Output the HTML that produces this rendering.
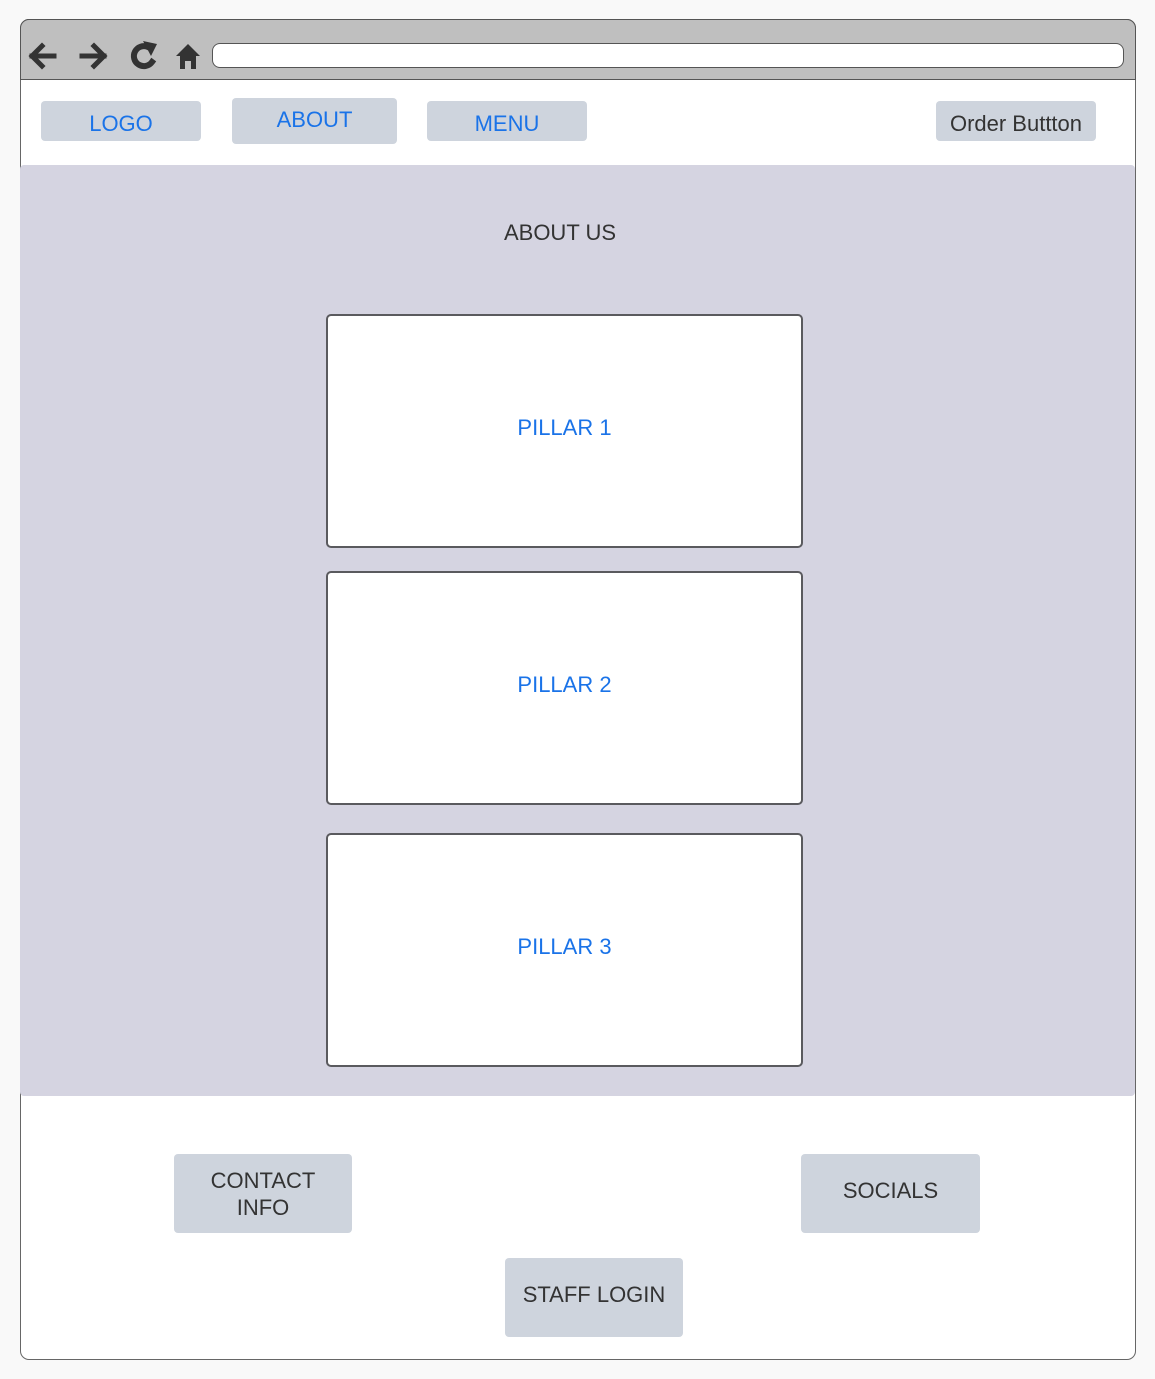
<!DOCTYPE html>
<html><head><style>
body{margin:0;width:1155px;height:1379px;background:#f9f9f9;position:relative;font-family:"Liberation Sans",sans-serif;overflow:hidden}
.a{position:absolute;box-sizing:border-box}
.btn{background:#ced4dd;border-radius:4px;display:flex;align-items:center;justify-content:center;text-align:center;font-size:22px;color:#333}
.blue{color:#1a73e8}
.nav{padding-top:5px}
.pil{background:#fff;border:2.5px solid #5a5a5e;border-radius:5px;display:flex;align-items:center;justify-content:center;color:#1a73e8;font-size:22px;padding-bottom:6px}
</style></head><body>
<div class="a" style="left:20px;top:19px;width:1116px;height:1341px;background:#fff;border:1.5px solid #666;border-radius:9px"></div>
<div class="a" style="left:20px;top:19px;width:1116px;height:61px;background:#bfbfbf;border:1.5px solid #555;border-radius:9px 9px 0 0"></div>
<div class="a" style="left:212px;top:43px;width:912px;height:25px;background:#fff;border:1.5px solid #555;border-radius:8px"></div>
<svg class="a" style="left:26px;top:38px" width="180" height="36" viewBox="0 0 180 36">
<g stroke="#333" stroke-width="5" fill="none" stroke-linecap="square">
<path d="M6 18H28M16 8L6 18L16 28"/>
<path d="M56 18H78M68 8L78 18L68 28"/>
<path d="M122 9A10 10 0 1 0 126 24" stroke-width="6"/>
</g>
<path d="M117 3L131 6L125 18Z" fill="#333"/>
<path d="M150 18L162 6L174 18H170V31H165V23H159V31H154V18Z" fill="#333"/>
</svg>
<div class="a btn blue nav" style="left:41px;top:101px;width:160px;height:40px">LOGO</div>
<div class="a btn blue" style="left:232px;top:98px;width:165px;height:46px;padding-bottom:2px">ABOUT</div>
<div class="a btn blue nav" style="left:427px;top:101px;width:160px;height:40px">MENU</div>
<div class="a btn nav" style="left:936px;top:101px;width:160px;height:40px">Order Buttton</div>
<div class="a" style="left:20px;top:165px;width:1115px;height:931px;background:#d5d4e1;border-radius:4px"></div>
<div class="a" style="left:20px;top:220px;width:1080px;text-align:center;font-size:22px;color:#333">ABOUT US</div>
<div class="a pil" style="left:326px;top:314px;width:477px;height:234px">PILLAR 1</div>
<div class="a pil" style="left:326px;top:571px;width:477px;height:234px">PILLAR 2</div>
<div class="a pil" style="left:326px;top:833px;width:477px;height:234px">PILLAR 3</div>
<div class="a btn" style="left:174px;top:1154px;width:178px;height:79px;line-height:27px">CONTACT<br>INFO</div>
<div class="a btn" style="left:801px;top:1154px;width:179px;height:79px;padding-bottom:6px">SOCIALS</div>
<div class="a btn" style="left:505px;top:1258px;width:178px;height:79px;padding-bottom:6px">STAFF LOGIN</div>
</body></html>
